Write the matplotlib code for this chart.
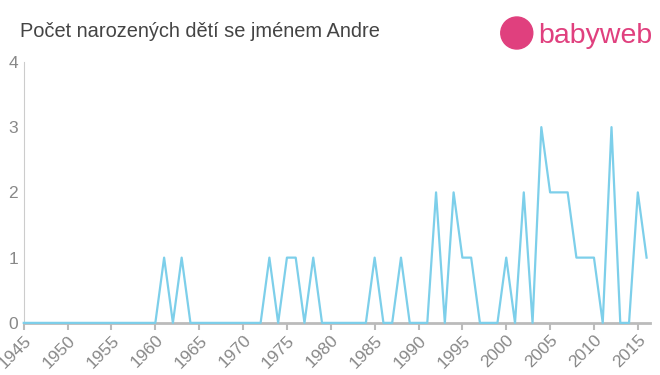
import matplotlib
matplotlib.use('Agg')
from matplotlib import pyplot as plt
from matplotlib.patches import Ellipse

plt.rcParams['font.family'] = ['Liberation Sans', 'DejaVu Sans']

years = list(range(1945, 2017))
counts = [0] * len(years)
nonzero = {
    1961: 1, 1963: 1,
    1973: 1, 1975: 1, 1976: 1, 1978: 1,
    1985: 1, 1988: 1,
    1992: 2, 1994: 2, 1995: 1, 1996: 1,
    2000: 1, 2002: 2, 2004: 3, 2005: 2, 2006: 2, 2007: 2,
    2008: 1, 2009: 1, 2010: 1, 2012: 3, 2015: 2, 2016: 1,
}
for y, c in nonzero.items():
    counts[years.index(y)] = c

xticks = list(range(1945, 2016, 5))
yticks = [0, 1, 2, 3, 4]
title = 'Počet narozených dětí se jménem Andre'

fig = plt.figure(figsize=(6.6, 3.75), dpi=100)
ax = fig.add_axes([0.036, 0.139, 0.949, 0.696])
ax.plot(years, counts, color='#7dcfea', lw=1.6, zorder=3, clip_on=False)

ax.set_xlim(1945, 2016.4)
ax.set_ylim(0, 4)
ax.set_xticks(xticks)
ax.set_xticklabels([str(x) for x in xticks], rotation=45, ha='right',
                   rotation_mode='anchor')
ax.set_yticks(yticks)
ax.tick_params(axis='x', colors='#bbbbbb', labelcolor='#888888',
               labelsize=12.5, length=5, width=1.5, pad=2)
ax.tick_params(axis='y', length=0, labelcolor='#888888', labelsize=12.5, pad=4)
for s in ['top', 'right']:
    ax.spines[s].set_visible(False)
ax.spines['left'].set_color('#cccccc')
ax.spines['bottom'].set_color('#bbbbbb')
ax.spines['bottom'].set_linewidth(2)

fig.text(0.03, 0.915, title, fontsize=14.4, color='#444444', va='center')
fig.text(0.815, 0.905, 'babyweb', fontsize=20.5, color='#e0407e',
         va='center', ha='left')
fig.patches.append(Ellipse((0.783, 0.912), 32 / 660, 32 / 375,
                           transform=fig.transFigure, color='#e0407e',
                           figure=fig))
fig.savefig('out.png', dpi=100)
